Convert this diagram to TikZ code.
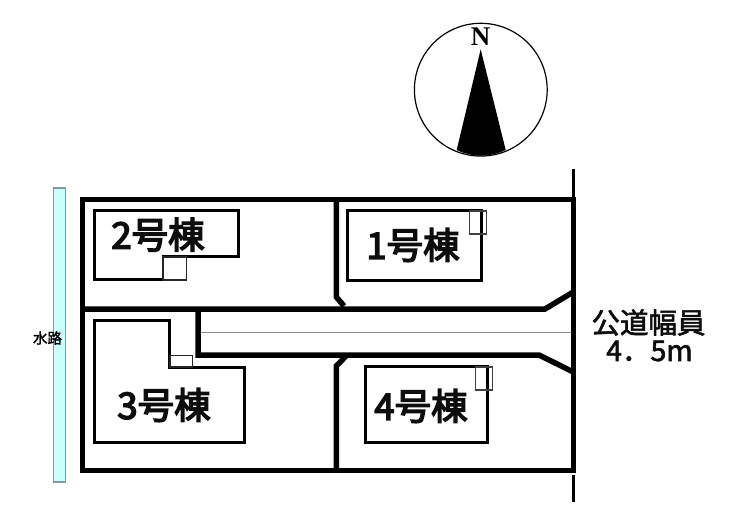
\documentclass[tikz,border=0pt]{standalone}
\usepackage{fontspec}
\newfontfamily\cjk{Noto Sans CJK JP}
\newfontfamily\cjkfb{Noto Sans CJK JP}[FakeBold=4]
\newfontfamily\cjkmid{Noto Sans CJK JP}[FakeBold=2]
\setmainfont{Liberation Serif}
\definecolor{waterfill}{HTML}{CCFFFF}
\definecolor{waterline}{HTML}{7F9C9C}
\tikzset{
  wall/.style={line width=5.5pt,line join=miter,line cap=butt},
  house/.style={line width=3pt,line join=miter},
  porch/.style={line width=1.3pt,draw=black!85,fill=white},
  porchthin/.style={line width=1.3pt,draw=black!75},
  lot/.style={font=\cjkfb\fontsize{36.5}{37}\selectfont,inner sep=0pt,text=black!95},
  road/.style={font=\cjkmid\fontsize{28.5}{30}\selectfont,inner sep=0pt,text=black!95},
}
\begin{document}
\begin{tikzpicture}[x=1pt,y=-1pt]
\useasboundingbox (0,0) rectangle (740,524);
\fill[white] (0,0) rectangle (740,524);
% waterway
\draw[fill=waterfill,draw=waterline,line width=1.2pt] (53.7,188) rectangle (65.3,482);
\node[inner sep=0pt,font=\cjkmid\fontsize{14.5}{15}\selectfont] (water) at (47.5,338) {水路};
% north
\draw[line width=1.2pt] (480.8,89.7) circle (66.4);
\coordinate (tip) at (480.7,49.3);
\fill (tip) -- (456.7,150) .. controls (472,157.5) and (490,157.5) .. (505.7,150) -- cycle;
\node[inner sep=0pt,font=\bfseries\fontsize{27}{27}\selectfont] (north) at (480.7,37) {N};
% road centre
\draw[line width=0.9pt,black!45] (200,332) -- (571,332);
% street line
\draw[line width=3pt] (573.3,169) -- (573.3,199);
\draw[line width=3pt] (573.3,475) -- (573.3,502);
% walls
\draw[wall] (336.3,199) -- (336.3,297) -- (344,306);
\draw[wall] (336.3,471) -- (336.3,366) -- (347,355);
\draw[wall] (198,309) -- (198,355) -- (539,355) -- (573.3,372);
\draw[wall] (82.7,309) -- (545,309) -- (573.3,292);
\draw[wall] (82.7,199.3) -- (573.3,199.3) -- (573.3,470.7) -- (82.7,470.7) -- cycle;
% houses
\draw[house] (94,211) -- (238.7,211) -- (238.7,257) -- (163,257) -- (163,280) -- (94,280) -- cycle;
\draw[porch] (163,257) rectangle (186.7,280);
\draw[house] (347.3,211) rectangle (481.7,280.7);
\draw[porchthin] (469.3,211) rectangle (486.7,234);
\draw[house] (94,320.7) -- (169.3,320.7) -- (169.3,367) -- (244.3,367) -- (244.3,442) -- (94,442) -- cycle;
\draw[porch] (170,355.3) rectangle (192.7,367);
\draw[house] (365.3,366.7) rectangle (487,442.3);
\draw[porchthin] (475.3,367) rectangle (492.7,390);
% labels
\node[lot] (h2) at (158,234.7) {2号棟};
\node[lot] (h1) at (413,245) {1号棟};
\node[lot] (h3) at (164,405) {3号棟};
\node[lot] (h4) at (421,406) {4号棟};
\node[road] (w1) at (648.5,322.5) {公道幅員};
\node[road] (w2) at (649.5,351) {4．5m};
\end{tikzpicture}
\end{document}
